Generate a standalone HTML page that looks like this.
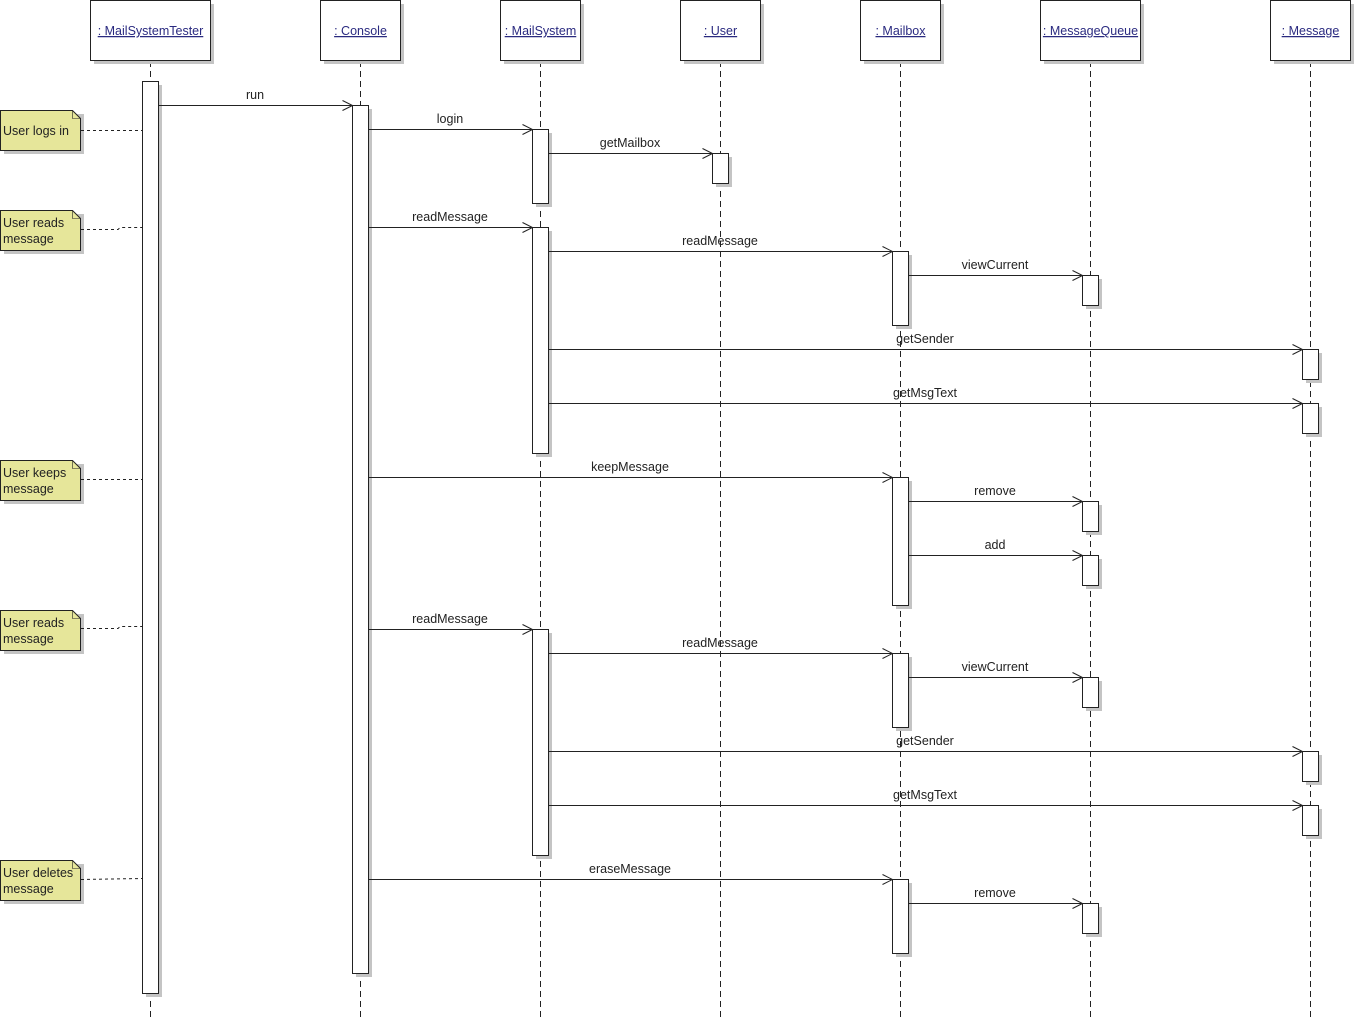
<!DOCTYPE html>
<html><head><meta charset="utf-8"><style>
html,body{margin:0;padding:0;background:#fff;width:1355px;height:1018px;overflow:hidden}
svg{display:block}
text{font-family:"Liberation Sans",Arial,sans-serif;font-size:12.5px;fill:#222}
.h{fill:#2a2a80;text-decoration:underline}
.b{fill:#fff;stroke:#222;stroke-width:1}
.s{fill:#c4c4c4}
.ll{stroke:#222;stroke-dasharray:6,4;fill:none}
.m{stroke:#222;fill:none}
.n{fill:#e6e69a;stroke:#222}
.nd{stroke:#222;stroke-dasharray:3,3;fill:none}
</style></head><body>
<svg width="1355" height="1018" viewBox="0 0 1355 1018">
<g class="ll">
<line x1="150.5" y1="61" x2="150.5" y2="1018"/>
<line x1="360.5" y1="61" x2="360.5" y2="1018"/>
<line x1="540.5" y1="61" x2="540.5" y2="1018"/>
<line x1="720.5" y1="61" x2="720.5" y2="1018"/>
<line x1="900.5" y1="61" x2="900.5" y2="1018"/>
<line x1="1090.5" y1="61" x2="1090.5" y2="1018"/>
<line x1="1310.5" y1="61" x2="1310.5" y2="1018"/>
</g>
<g>
<rect class="s" x="94" y="4" width="120" height="60"/><rect class="b" x="90.5" y="0.5" width="120" height="60"/>
<rect class="s" x="324" y="4" width="80" height="60"/><rect class="b" x="320.5" y="0.5" width="80" height="60"/>
<rect class="s" x="504" y="4" width="80" height="60"/><rect class="b" x="500.5" y="0.5" width="80" height="60"/>
<rect class="s" x="684" y="4" width="80" height="60"/><rect class="b" x="680.5" y="0.5" width="80" height="60"/>
<rect class="s" x="864" y="4" width="80" height="60"/><rect class="b" x="860.5" y="0.5" width="80" height="60"/>
<rect class="s" x="1044" y="4" width="100" height="60"/><rect class="b" x="1040.5" y="0.5" width="100" height="60"/>
<rect class="s" x="1274" y="4" width="80" height="60"/><rect class="b" x="1270.5" y="0.5" width="80" height="60"/>
</g>
<g text-anchor="middle">
<text class="h" x="150.5" y="35">: MailSystemTester</text>
<text class="h" x="360.5" y="35">: Console</text>
<text class="h" x="540.5" y="35">: MailSystem</text>
<text class="h" x="720.5" y="35">: User</text>
<text class="h" x="900.5" y="35">: Mailbox</text>
<text class="h" x="1090.5" y="35">: MessageQueue</text>
<text class="h" x="1310.5" y="35">: Message</text>
</g>
<g>
<rect class="s" x="146" y="85" width="16" height="912"/><rect class="b" x="142.5" y="81.5" width="16" height="912"/>
<rect class="s" x="356" y="109" width="16" height="868"/><rect class="b" x="352.5" y="105.5" width="16" height="868"/>
<rect class="s" x="536" y="133" width="16" height="74"/><rect class="b" x="532.5" y="129.5" width="16" height="74"/>
<rect class="s" x="536" y="231" width="16" height="226"/><rect class="b" x="532.5" y="227.5" width="16" height="226"/>
<rect class="s" x="536" y="633" width="16" height="226"/><rect class="b" x="532.5" y="629.5" width="16" height="226"/>
<rect class="s" x="716" y="157" width="16" height="30"/><rect class="b" x="712.5" y="153.5" width="16" height="30"/>
<rect class="s" x="896" y="255" width="16" height="74"/><rect class="b" x="892.5" y="251.5" width="16" height="74"/>
<rect class="s" x="896" y="481" width="16" height="128"/><rect class="b" x="892.5" y="477.5" width="16" height="128"/>
<rect class="s" x="896" y="657" width="16" height="74"/><rect class="b" x="892.5" y="653.5" width="16" height="74"/>
<rect class="s" x="896" y="883" width="16" height="74"/><rect class="b" x="892.5" y="879.5" width="16" height="74"/>
<rect class="s" x="1086" y="279" width="16" height="30"/><rect class="b" x="1082.5" y="275.5" width="16" height="30"/>
<rect class="s" x="1086" y="505" width="16" height="30"/><rect class="b" x="1082.5" y="501.5" width="16" height="30"/>
<rect class="s" x="1086" y="559" width="16" height="30"/><rect class="b" x="1082.5" y="555.5" width="16" height="30"/>
<rect class="s" x="1086" y="681" width="16" height="30"/><rect class="b" x="1082.5" y="677.5" width="16" height="30"/>
<rect class="s" x="1086" y="907" width="16" height="30"/><rect class="b" x="1082.5" y="903.5" width="16" height="30"/>
<rect class="s" x="1306" y="353" width="16" height="30"/><rect class="b" x="1302.5" y="349.5" width="16" height="30"/>
<rect class="s" x="1306" y="407" width="16" height="30"/><rect class="b" x="1302.5" y="403.5" width="16" height="30"/>
<rect class="s" x="1306" y="755" width="16" height="30"/><rect class="b" x="1302.5" y="751.5" width="16" height="30"/>
<rect class="s" x="1306" y="809" width="16" height="30"/><rect class="b" x="1302.5" y="805.5" width="16" height="30"/>
</g>
<g class="m">
<path d="M158.5 105.5H352.5M342.5 100.5L352.5 105.5L342.5 110.5"/>
<path d="M368.5 129.5H532.5M522.5 124.5L532.5 129.5L522.5 134.5"/>
<path d="M548.5 153.5H712.5M702.5 148.5L712.5 153.5L702.5 158.5"/>
<path d="M368.5 227.5H532.5M522.5 222.5L532.5 227.5L522.5 232.5"/>
<path d="M548.5 251.5H892.5M882.5 246.5L892.5 251.5L882.5 256.5"/>
<path d="M908.5 275.5H1082.5M1072.5 270.5L1082.5 275.5L1072.5 280.5"/>
<path d="M548.5 349.5H1302.5M1292.5 344.5L1302.5 349.5L1292.5 354.5"/>
<path d="M548.5 403.5H1302.5M1292.5 398.5L1302.5 403.5L1292.5 408.5"/>
<path d="M368.5 477.5H892.5M882.5 472.5L892.5 477.5L882.5 482.5"/>
<path d="M908.5 501.5H1082.5M1072.5 496.5L1082.5 501.5L1072.5 506.5"/>
<path d="M908.5 555.5H1082.5M1072.5 550.5L1082.5 555.5L1072.5 560.5"/>
<path d="M368.5 629.5H532.5M522.5 624.5L532.5 629.5L522.5 634.5"/>
<path d="M548.5 653.5H892.5M882.5 648.5L892.5 653.5L882.5 658.5"/>
<path d="M908.5 677.5H1082.5M1072.5 672.5L1082.5 677.5L1072.5 682.5"/>
<path d="M548.5 751.5H1302.5M1292.5 746.5L1302.5 751.5L1292.5 756.5"/>
<path d="M548.5 805.5H1302.5M1292.5 800.5L1302.5 805.5L1292.5 810.5"/>
<path d="M368.5 879.5H892.5M882.5 874.5L892.5 879.5L882.5 884.5"/>
<path d="M908.5 903.5H1082.5M1072.5 898.5L1082.5 903.5L1072.5 908.5"/>
</g>
<g text-anchor="middle">
<text x="255" y="99">run</text>
<text x="450" y="123">login</text>
<text x="630" y="147">getMailbox</text>
<text x="450" y="221">readMessage</text>
<text x="720" y="245">readMessage</text>
<text x="995" y="269">viewCurrent</text>
<text x="925" y="343">getSender</text>
<text x="925" y="397">getMsgText</text>
<text x="630" y="471">keepMessage</text>
<text x="995" y="495">remove</text>
<text x="995" y="549">add</text>
<text x="450" y="623">readMessage</text>
<text x="720" y="647">readMessage</text>
<text x="995" y="671">viewCurrent</text>
<text x="925" y="745">getSender</text>
<text x="925" y="799">getMsgText</text>
<text x="630" y="873">eraseMessage</text>
<text x="995" y="897">remove</text>
</g>
<g>
<rect class="s" x="4" y="114" width="80" height="40"/>
<path class="n" d="M0.5 110.5H72.5L80.5 118.5V150.5H0.5Z"/><path class="m" d="M72.5 110.5V118.5H80.5" stroke-width="0.6"/>
<line class="nd" x1="81" y1="130.5" x2="142" y2="130.5"/>
<text x="3" y="135">User logs in</text>

<rect class="s" x="4" y="214" width="80" height="40"/>
<path class="n" d="M0.5 210.5H72.5L80.5 218.5V250.5H0.5Z"/><path class="m" d="M72.5 210.5V218.5H80.5" stroke-width="0.6"/>
<path class="nd" d="M81 229.5H118L120 227.5H142"/>
<text x="3" y="227">User reads</text><text x="3" y="243">message</text>

<rect class="s" x="4" y="464" width="80" height="40"/>
<path class="n" d="M0.5 460.5H72.5L80.5 468.5V500.5H0.5Z"/><path class="m" d="M72.5 460.5V468.5H80.5" stroke-width="0.6"/>
<line class="nd" x1="81" y1="479.5" x2="142" y2="479.5"/>
<text x="3" y="477">User keeps</text><text x="3" y="493">message</text>

<rect class="s" x="4" y="614" width="80" height="40"/>
<path class="n" d="M0.5 610.5H72.5L80.5 618.5V650.5H0.5Z"/><path class="m" d="M72.5 610.5V618.5H80.5" stroke-width="0.6"/>
<path class="nd" d="M81 628.5H118L120 626.5H142"/>
<text x="3" y="627">User reads</text><text x="3" y="643">message</text>

<rect class="s" x="4" y="864" width="80" height="40"/>
<path class="n" d="M0.5 860.5H72.5L80.5 868.5V900.5H0.5Z"/><path class="m" d="M72.5 860.5V868.5H80.5" stroke-width="0.6"/>
<line class="nd" x1="81" y1="879.5" x2="142" y2="878.5"/>
<text x="3" y="877">User deletes</text><text x="3" y="893">message</text>
</g>
</svg>
</body></html>
